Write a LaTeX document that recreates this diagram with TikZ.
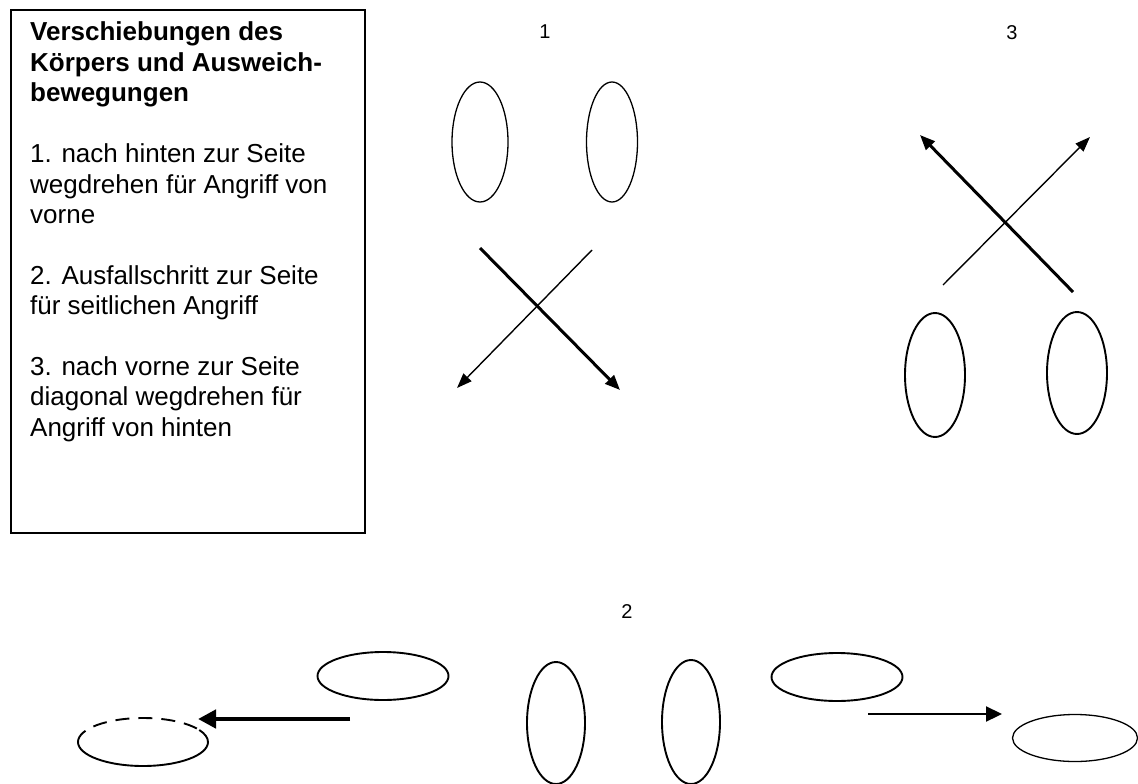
\documentclass[tikz,border=0pt]{standalone}
\usepackage{fontspec}
\setmainfont{Liberation Sans}
\usetikzlibrary{arrows.meta,shapes.geometric}
\begin{document}
\begin{tikzpicture}[x=1pt,y=-1pt,
  boxtext/.style={anchor=base west, inner sep=0pt, font=\fontsize{26}{30}\selectfont},
  boxtitle/.style={boxtext, font=\fontsize{26}{30}\selectfont\bfseries},
  figlabel/.style={inner sep=0pt, font=\fontsize{20}{24}\selectfont},
  body/.style={ellipse, draw=black, inner sep=0pt, line width=1.3pt},
  rough/.style={body, line width=1.9pt},
  thinarrow/.style={draw=black, line width=1.4pt, -{Triangle[length=15pt,width=11pt]}},
  thickarrow/.style={draw=black, line width=3pt, -{Triangle[length=15pt,width=12pt]}},
]
\useasboundingbox (0,0) rectangle (1138,784);
\fill[white] (0,0) rectangle (1138,784);

% legend box
\node[draw=black, line width=1.8pt, minimum width=354pt, minimum height=523pt,
      anchor=north west, inner sep=0pt] (legend) at (10,9) {};
\node[boxtitle] (t0) at (30,41.0) {Verschiebungen des};
\node[boxtitle] (t1) at (30,71.4) {Körpers und Ausweich-};
\node[boxtitle] (t2) at (30,101.8) {bewegungen};
\node[boxtext] (a0) at (30,162.6) {1. nach hinten zur Seite};
\node[boxtext] (a1) at (30,193.0) {wegdrehen für Angriff von};
\node[boxtext] (a2) at (30,223.4) {vorne};
\node[boxtext] (b0) at (30,284.2) {2. Ausfallschritt zur Seite};
\node[boxtext] (b1) at (30,314.6) {für seitlichen Angriff};
\node[boxtext] (c0) at (30,375.4) {3. nach vorne zur Seite};
\node[boxtext] (c1) at (30,405.8) {diagonal wegdrehen für};
\node[boxtext] (c2) at (30,436.2) {Angriff von hinten};

% figure 1
\node[figlabel] (lab1) at (545,32) {1};
\node[body, minimum width=56pt, minimum height=120pt] (f1l) at (480,142) {};
\node[body, minimum width=51pt, minimum height=120pt] (f1r) at (612,142) {};
\coordinate (f1as) at (480,248);
\coordinate (f1ae) at (620,390);
\coordinate (f1bs) at (592,250);
\coordinate (f1be) at (457,388);
\draw[thinarrow] (f1bs) -- (f1be);
\draw[thickarrow] (f1as) -- (f1ae);

% figure 3
\node[figlabel] (lab3) at (1012,33) {3};
\coordinate (f3as) at (1073,292);
\coordinate (f3ae) at (920,135);
\coordinate (f3bs) at (943,285);
\coordinate (f3be) at (1090,137);
\draw[thinarrow] (f3bs) -- (f3be);
\draw[thickarrow] (f3as) -- (f3ae);
\node[rough, minimum width=60pt, minimum height=124pt] (f3l) at (935,375) {};
\node[rough, minimum width=60pt, minimum height=122pt] (f3r) at (1077,373) {};

% figure 2
\node[figlabel] (lab2) at (627,612) {2};
\node[rough, minimum width=58pt, minimum height=122pt] (f2cl) at (556,723) {};
\node[rough, minimum width=58pt, minimum height=124pt] (f2cr) at (691,722) {};
\node[rough, minimum width=131pt, minimum height=48pt] (f2ul) at (383,676) {};
\node[inner sep=0pt, minimum width=130pt, minimum height=48pt] (f2ll) at (143,742) {};
\draw[line width=1.9pt] ([shift={(65,0)}]f2ll.center) arc[start angle=0, end angle=180, x radius=65, y radius=24];
\draw[line width=1.9pt, dash pattern=on 14pt off 9pt] ([shift={(-65,0)}]f2ll.center) arc[start angle=180, end angle=330, x radius=65, y radius=24];
\draw[line width=1.9pt] ([shift={(65,0)}]f2ll.center) arc[start angle=360, end angle=330, x radius=65, y radius=24];
\node[rough, minimum width=131pt, minimum height=48pt] (f2ur) at (837,677) {};
\node[body, minimum width=125pt, minimum height=47pt] (f2lr) at (1075,738) {};
\coordinate (f2ls) at (350,719);
\coordinate (f2le) at (198,719);
\coordinate (f2rs) at (868,714);
\coordinate (f2re) at (1002,714);
\draw[draw=black, line width=4.5pt, -{Triangle[length=18pt,width=18pt]}] (f2ls) -- (f2le);
\draw[draw=black, line width=2.2pt, -{Triangle[length=16pt,width=15pt]}] (f2rs) -- (f2re);
\end{tikzpicture}
\end{document}
